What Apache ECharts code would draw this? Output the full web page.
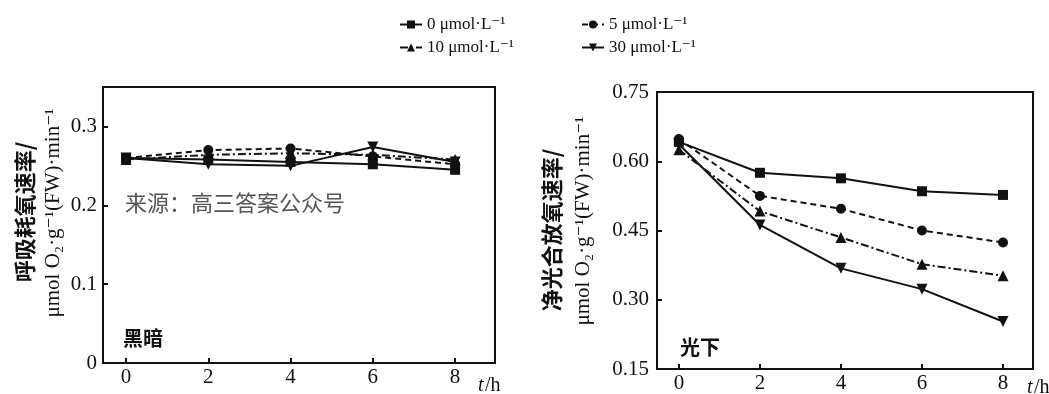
<!DOCTYPE html>
<html>
<head>
<meta charset="utf-8">
<script src="https://cdn.jsdelivr.net/npm/echarts@6/dist/echarts.min.js"></script>
<style>
  html, body { margin: 0; padding: 0; background: #fff; }
  #chart { width: 1049px; height: 394px; }
</style>
</head>
<body>
<div id="chart"></div>
<script>
// Sampling times (h)
const hours = [0, 2, 4, 6, 8];
const timeTicks = [0, 2, 4, 6, 8];

// Treatment concentrations
const seriesNames = ['0 μmol·L⁻¹', '5 μmol·L⁻¹', '10 μmol·L⁻¹', '30 μmol·L⁻¹'];

// Respiration O2 consumption rate in darkness
const dark0 = [0.260, 0.258, 0.255, 0.252, 0.245];
const dark5 = [0.260, 0.270, 0.272, 0.262, 0.252];
const dark10 = [0.258, 0.264, 0.266, 0.264, 0.258];
const dark30 = [0.260, 0.252, 0.250, 0.274, 0.255];

// Net photosynthetic O2 evolution rate in light
const light0 = [0.642, 0.575, 0.563, 0.535, 0.527];
const light5 = [0.648, 0.525, 0.497, 0.450, 0.424];
const light10 = [0.625, 0.492, 0.435, 0.377, 0.352];
const light30 = [0.637, 0.462, 0.368, 0.323, 0.253];

// Tick labels
const darkYTicks = [0, 0.1, 0.2, 0.3];
const lightYTicks = [0.15, 0.30, 0.45, 0.60, 0.75];

const INK = '#111';
const SERIF = '"Liberation Serif", "DejaVu Serif", serif';
const CJK = '"Noto Sans CJK SC", sans-serif';

const styles = [
  { symbol: 'rect', rotate: 0, type: 'solid', size: 10 },
  { symbol: 'circle', rotate: 0, type: [6, 4], size: 10 },
  { symbol: 'triangle', rotate: 0, type: [8, 3, 2, 3], size: 11 },
  { symbol: 'triangle', rotate: 180, type: 'solid', size: 11 }
];
const darkData = [dark0, dark5, dark10, dark30];
const lightData = [light0, light5, light10, light30];

function makeSeries(dataSets, axisIndex) {
  return dataSets.map((vals, i) => ({
    name: seriesNames[i],
    type: 'line',
    xAxisIndex: axisIndex,
    yAxisIndex: axisIndex,
    data: hours.map((h, k) => [h, vals[k]]),
    symbol: styles[i].symbol,
    symbolRotate: styles[i].rotate,
    symbolSize: styles[i].size,
    lineStyle: { color: INK, width: 2, type: styles[i].type },
    itemStyle: { color: INK },
    animation: false
  }));
}

function xAxis(gridIndex, min, max) {
  return {
    type: 'value', gridIndex, min, max,
    axisLine: { show: true, onZero: false, lineStyle: { color: INK, width: 2 } },
    axisTick: { show: true, inside: true, length: 5, customValues: timeTicks, lineStyle: { color: INK, width: 2 } },
    axisLabel: { customValues: timeTicks, color: INK, fontFamily: SERIF, fontSize: 21, margin: 4 },
    splitLine: { show: false }
  };
}

function yAxis(gridIndex, min, max, ticks, digits, margin) {
  return {
    type: 'value', gridIndex, min, max,
    axisLine: { show: true, onZero: false, lineStyle: { color: INK, width: 2 } },
    axisTick: { show: true, inside: true, length: 5, customValues: ticks, lineStyle: { color: INK, width: 2 } },
    axisLabel: {
      customValues: ticks, color: INK, fontFamily: SERIF, fontSize: 21, margin,
      formatter: v => (v === 0 ? '0' : v.toFixed(digits))
    },
    splitLine: { show: false }
  };
}

// One legend per entry so the two-by-two block lines up in columns
function legend(left, top, name) {
  return {
    top, left, orient: 'horizontal',
    data: [name],
    itemWidth: 22, itemHeight: 10,
    textStyle: { color: INK, fontFamily: SERIF, fontSize: 17 },
    selectedMode: false
  };
}

function vText(x, y, text, font) {
  return {
    type: 'text', x, y, rotation: Math.PI / 2,
    style: { text, font, fill: INK, align: 'center', verticalAlign: 'middle' }
  };
}

function hText(x, y, text, font, fill) {
  return {
    type: 'text', x, y,
    style: { text, font, fill: fill || INK, align: 'left', verticalAlign: 'middle' }
  };
}

const chart = echarts.init(document.getElementById('chart'), null, { renderer: 'canvas' });
chart.setOption({
  backgroundColor: '#fff',
  animation: false,
  legend: [
    legend(394, 11, seriesNames[0]),
    legend(576, 11, seriesNames[1]),
    legend(394, 34, seriesNames[2]),
    legend(576, 34, seriesNames[3])
  ],
  grid: [
    { left: 103, top: 87, width: 392, height: 276, show: true, borderColor: INK, borderWidth: 2, backgroundColor: 'transparent' },
    { left: 657, top: 92, width: 376, height: 278, show: true, borderColor: INK, borderWidth: 2, backgroundColor: 'transparent' }
  ],
  xAxis: [xAxis(0, -0.56, 8.97), xAxis(1, -0.54, 8.74)],
  yAxis: [
    yAxis(0, 0, 0.35, darkYTicks, 1, 6),
    yAxis(1, 0.15, 0.75, lightYTicks, 2, 8)
  ],
  series: makeSeries(darkData, 0).concat(makeSeries(lightData, 1)),
  graphic: [
    vText(25, 212, '呼吸耗氧速率/', 'bold 22px ' + CJK),
    vText(53, 213, 'μmol O₂·g⁻¹(FW)·min⁻¹', '21px ' + SERIF),
    vText(552, 230, '净光合放氧速率/', 'bold 22px ' + CJK),
    vText(583, 221, 'μmol O₂·g⁻¹(FW)·min⁻¹', '21px ' + SERIF),
    hText(123, 338, '黑暗', 'bold 20px ' + CJK),
    hText(680, 347, '光下', 'bold 20px ' + CJK),
    hText(125, 203, '来源：高三答案公众号', '22px ' + CJK, '#555'),
    hText(478, 386, 't', 'italic 20px ' + SERIF),
    hText(485, 386, '/h', '20px ' + SERIF),
    hText(1027, 388, 't', 'italic 20px ' + SERIF),
    hText(1034, 388, '/h', '20px ' + SERIF)
  ]
});
</script>
</body>
</html>
